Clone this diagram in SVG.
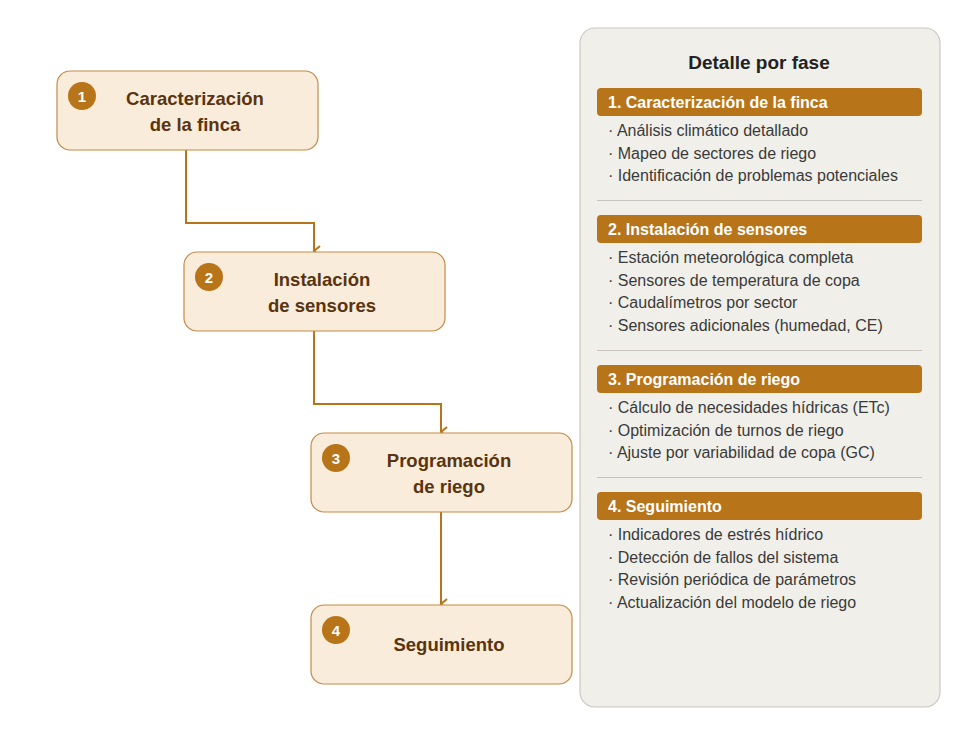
<svg xmlns="http://www.w3.org/2000/svg" width="961" height="735" viewBox="0 0 961 735">
<defs>
<style>
text{font-family:"Liberation Sans",Arial,sans-serif}
.node{fill:#f9ecda;stroke:#c48b45;stroke-width:1.2}
.badge{fill:#b87419}
.bn{fill:#fff;font-size:15px;font-weight:bold;text-anchor:middle}
.nt{fill:#5a3410;font-size:18.5px;font-weight:bold;text-anchor:middle}
.conn{fill:none;stroke:#b87419;stroke-width:2}
.hdr{fill:#b87419}
.ht{fill:#fff;font-size:16px;font-weight:bold}
.it{fill:#3a3a3a;font-size:16px}
.div{stroke:#c8c4bc;stroke-width:1}
</style>
<marker id="ah" markerWidth="12" markerHeight="12" refX="6" refY="10" orient="auto" markerUnits="userSpaceOnUse">
<path d="M1,4 L6,10 L11,4" fill="none" stroke="#b87419" stroke-width="2"/>
</marker>
</defs>
<rect width="961" height="735" fill="#fff"/>
<g id="connectors">
<path class="conn" d="M186,150 V223 H314 V251" marker-end="url(#ah)"/>
<path class="conn" d="M314,331 V404 H441 V432" marker-end="url(#ah)"/>
<path class="conn" d="M441,512 V604" marker-end="url(#ah)"/>
</g>
<g id="node1">
<rect class="node" x="57" y="71" width="261" height="79" rx="13"/>
<circle class="badge" cx="82" cy="96" r="14"/><text class="bn" x="82" y="101.5">1</text>
<text class="nt" x="195" y="105">Caracterización</text><text class="nt" x="195" y="131">de la finca</text>
</g>
<g id="node2">
<rect class="node" x="184" y="252" width="261" height="79" rx="13"/>
<circle class="badge" cx="209" cy="277" r="14"/><text class="bn" x="209" y="282.5">2</text>
<text class="nt" x="322" y="286">Instalación</text><text class="nt" x="322" y="312">de sensores</text>
</g>
<g id="node3">
<rect class="node" x="311" y="433" width="261" height="79" rx="13"/>
<circle class="badge" cx="336" cy="458" r="14"/><text class="bn" x="336" y="463.5">3</text>
<text class="nt" x="449" y="467">Programación</text><text class="nt" x="449" y="493">de riego</text>
</g>
<g id="node4">
<rect class="node" x="311" y="605" width="261" height="79" rx="13"/>
<circle class="badge" cx="336" cy="630" r="14"/><text class="bn" x="336" y="635.5">4</text>
<text class="nt" x="449" y="651">Seguimiento</text>
</g>
<g id="panel">
<rect x="580" y="28" width="360" height="679" rx="15" fill="#f0efe9" stroke="#c8c8c4" stroke-width="1.2"/>
<text x="759" y="69" text-anchor="middle" font-size="19" font-weight="bold" fill="#222">Detalle por fase</text>
<rect class="hdr" x="597" y="88" width="325" height="28" rx="4"/>
<text class="ht" x="608" y="108">1. Caracterización de la finca</text>
<text class="it" x="608" y="136">· Análisis climático detallado</text>
<text class="it" x="608" y="158.5">· Mapeo de sectores de riego</text>
<text class="it" x="608" y="181">· Identificación de problemas potenciales</text>
<line class="div" x1="597" y1="200.5" x2="922" y2="200.5"/>
<rect class="hdr" x="597" y="215" width="325" height="28" rx="4"/>
<text class="ht" x="608" y="235">2. Instalación de sensores</text>
<text class="it" x="608" y="263">· Estación meteorológica completa</text>
<text class="it" x="608" y="285.5">· Sensores de temperatura de copa</text>
<text class="it" x="608" y="308">· Caudalímetros por sector</text>
<text class="it" x="608" y="330.5">· Sensores adicionales (humedad, CE)</text>
<line class="div" x1="597" y1="350.5" x2="922" y2="350.5"/>
<rect class="hdr" x="597" y="365" width="325" height="28" rx="4"/>
<text class="ht" x="608" y="385">3. Programación de riego</text>
<text class="it" x="608" y="413">· Cálculo de necesidades hídricas (ETc)</text>
<text class="it" x="608" y="435.5">· Optimización de turnos de riego</text>
<text class="it" x="608" y="458">· Ajuste por variabilidad de copa (GC)</text>
<line class="div" x1="597" y1="477.5" x2="922" y2="477.5"/>
<rect class="hdr" x="597" y="492" width="325" height="28" rx="4"/>
<text class="ht" x="608" y="512">4. Seguimiento</text>
<text class="it" x="608" y="540">· Indicadores de estrés hídrico</text>
<text class="it" x="608" y="562.5">· Detección de fallos del sistema</text>
<text class="it" x="608" y="585">· Revisión periódica de parámetros</text>
<text class="it" x="608" y="607.5">· Actualización del modelo de riego</text>
</g>
</svg>
